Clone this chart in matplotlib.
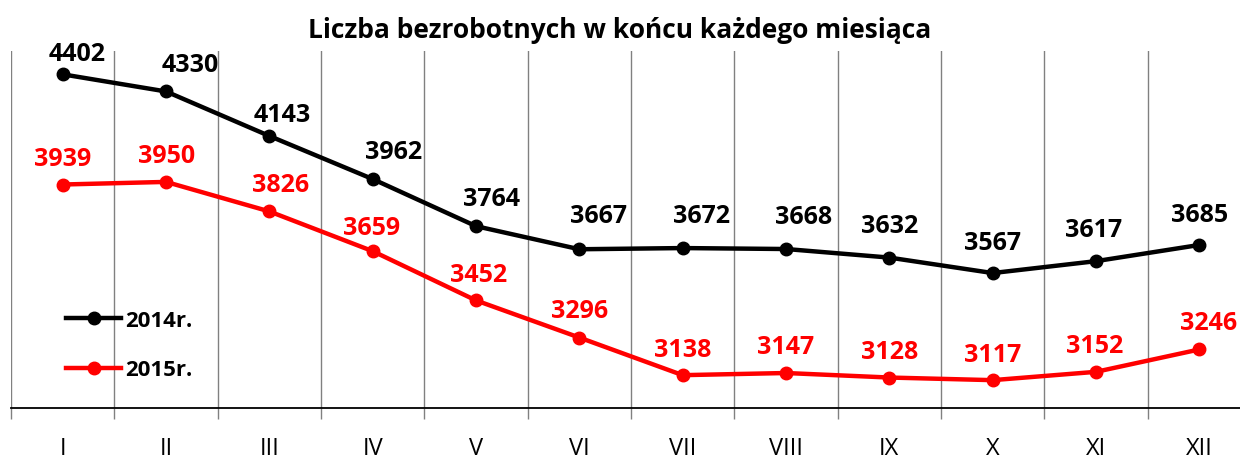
import matplotlib
matplotlib.use("Agg")
import matplotlib.pyplot as plt
import numpy as np

plt.rcParams['font.family'] = ['Open Sans', 'DejaVu Sans']

months = ["I", "II", "III", "IV", "V", "VI", "VII", "VIII", "IX", "X", "XI", "XII"]
y2014 = [4402, 4330, 4143, 3962, 3764, 3667, 3672, 3668, 3632, 3567, 3617, 3685]
y2015 = [3939, 3950, 3826, 3659, 3452, 3296, 3138, 3147, 3128, 3117, 3152, 3246]
series_names = ["2014r.", "2015r."]
title = "Liczba bezrobotnych w końcu każdego miesiąca"

# label offsets in pixels (dx, dy)
off2014 = [(14, 21), (24, 27), (13, 21), (21, 28), (16, 28), (19, 34),
           (19, 33), (18, 33), (0, 32), (0, 31), (-2, 32), (0, 30)]
off2015 = [(0, 26), (1, 26), (11, 27), (-1, 24), (3, 26), (0, 27),
           (0, 26), (0, 27), (0, 26), (0, 26), (-1, 26), (9, 27)]

fig = plt.figure(figsize=(12.4, 4.6), dpi=100)
ax = fig.add_axes([11 / 1240, 51 / 460, 1240 / 1240, 357 / 460])

x = np.arange(len(months))
ax.plot(x, y2014, color="black", lw=3.2, marker="o", ms=9, label=series_names[0])
ax.plot(x, y2015, color="#ff0000", lw=3.2, marker="o", ms=9, label=series_names[1])

for i, v in enumerate(y2014):
    ax.annotate(str(v), (x[i], v), xytext=off2014[i], textcoords="offset pixels",
                ha="center", va="center", fontsize=18, fontweight="bold", color="black")
for i, v in enumerate(y2015):
    ax.annotate(str(v), (x[i], v), xytext=off2015[i], textcoords="offset pixels",
                ha="center", va="center", fontsize=18, fontweight="bold", color="#ff0000")

ax.set_xlim(-0.5, 11.5)
ax.set_ylim(3000, 4500)
ax.set_yticks([])
for s in ["top", "right", "left"]:
    ax.spines[s].set_visible(False)
ax.spines["bottom"].set_linewidth(1.3)

ax.set_xticks(x)
ax.set_xticklabels(months, fontsize=17)
ax.tick_params(axis="x", which="major", length=0, pad=20)
ax.set_xticks(np.arange(-0.5, 12, 1), minor=True)
ax.tick_params(axis="x", which="minor", length=8, color="#808080", width=1)
ax.grid(axis="x", which="minor", color="#808080", lw=1)
ax.set_axisbelow(True)

leg = ax.legend(loc="center left", bbox_to_anchor=(46 / 1240, (408 - 345) / 357),
                frameon=False, fontsize=16, handlelength=2.5, labelspacing=1.3,
                handletextpad=0.15, borderaxespad=0)
for t in leg.get_texts():
    t.set_fontweight("bold")

fig.text(0.5, 1 - 31 / 460, title, ha="center", va="center", fontsize=19, fontweight="bold")

fig.savefig("out.png", dpi=100)
